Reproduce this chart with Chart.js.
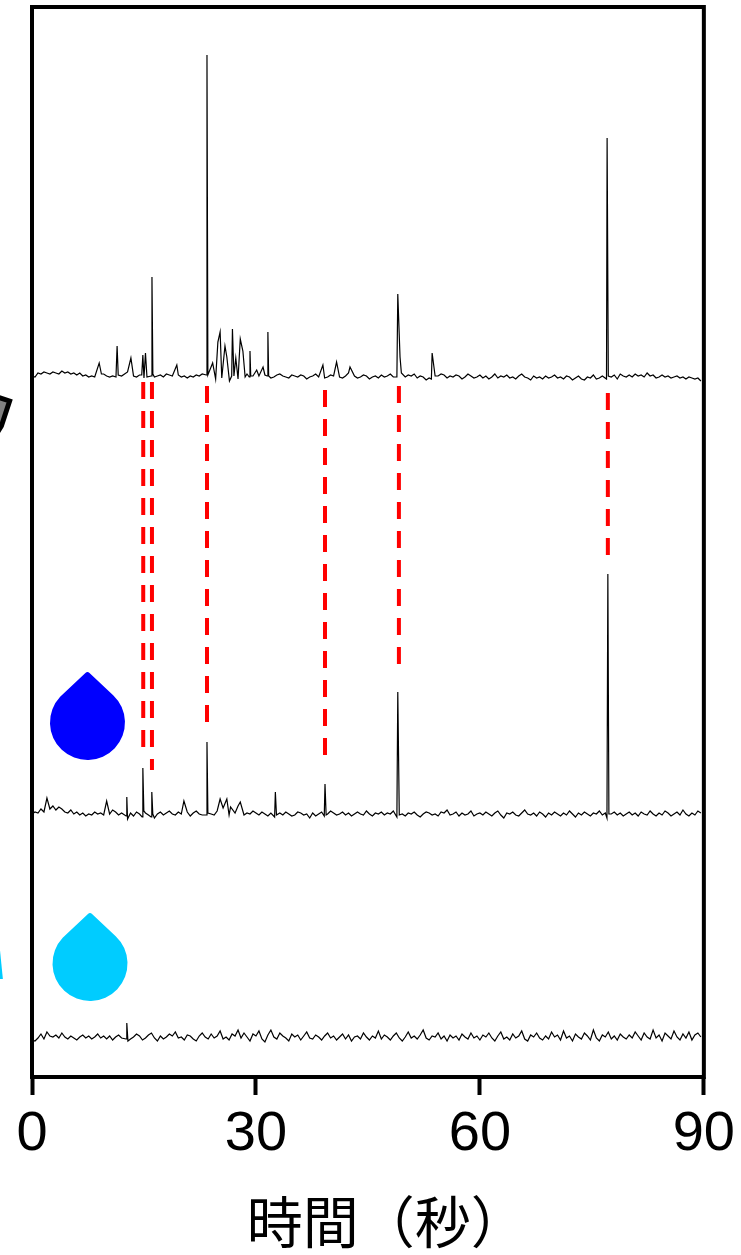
<!DOCTYPE html>
<html>
<head>
<meta charset="utf-8">
<title>時間（秒）</title>
<script src="https://cdn.jsdelivr.net/npm/chart.js@4"></script>
<style>
html, body { margin: 0; padding: 0; background: #fff; }
canvas { display: block; }
</style>
</head>
<body>
<canvas id="traceChart" width="741" height="1255"></canvas>
<script>
// Shared sampling times of the baseline noise (seconds)
const noiseTimes = [
  0,0.4,0.8,1.2,1.6,2,2.4,2.8,3.2,3.6,4,4.4,4.8,5.2,5.6,6,6.4,6.8,7.2,7.6,8,8.4,8.8,9.2,9.6,
  10,10.4,10.8,11.2,11.6,12,12.4,12.8,13.2,13.6,14,14.4,14.8,15.2,15.6,16,16.4,16.8,17.2,17.6,18,18.4,18.8,19.2,19.6,
  20,20.4,20.8,21.2,21.6,22,22.4,22.8,23.2,23.6,24,24.4,24.8,25.2,25.6,26,26.4,26.8,27.2,27.6,28,28.4,28.8,29.2,29.6,
  30,30.4,30.8,31.2,31.6,32,32.4,32.8,33.2,33.6,34,34.4,34.8,35.2,35.6,36,36.4,36.8,37.2,37.6,38,38.4,38.8,39.2,39.6,
  40,40.4,40.8,41.2,41.6,42,42.4,42.8,43.2,43.6,44,44.4,44.8,45.2,45.6,46,46.4,46.8,47.2,47.6,48,48.4,48.8,49.2,49.6,
  50,50.4,50.8,51.2,51.6,52,52.4,52.8,53.2,53.6,54,54.4,54.8,55.2,55.6,56,56.4,56.8,57.2,57.6,58,58.4,58.8,59.2,59.6,
  60,60.4,60.8,61.2,61.6,62,62.4,62.8,63.2,63.6,64,64.4,64.8,65.2,65.6,66,66.4,66.8,67.2,67.6,68,68.4,68.8,69.2,69.6,
  70,70.4,70.8,71.2,71.6,72,72.4,72.8,73.2,73.6,74,74.4,74.8,75.2,75.6,76,76.4,76.8,77.2,77.6,78,78.4,78.8,79.2,79.6,
  80,80.4,80.8,81.2,81.6,82,82.4,82.8,83.2,83.6,84,84.4,84.8,85.2,85.6,86,86.4,86.8,87.2,87.6,88,88.4,88.8,89.2,89.6
];

// Upper trace
const topNoise = [
  701,700,704,703,705,704,703,705,704,703,706,704,705,703,704,702,704,701,702,700,701,700,702,701,703,
  701,700,701,700,702,701,703,705,702,701,700,702,701,699,702,703,700,701,702,700,703,702,701,704,702,
  700,701,699,701,700,702,701,703,700,701,702,699,703,701,700,702,701,699,702,701,700,702,703,700,701,
  699,701,700,702,701,699,700,702,703,701,700,699,702,701,700,702,701,698,700,701,703,700,701,699,700,
  702,701,703,700,699,701,704,700,701,699,700,702,701,698,700,701,699,702,700,701,703,700,702,701,699,
  700,702,701,703,699,701,700,697,699,702,700,701,703,702,699,701,700,702,701,698,700,703,701,699,700,
  702,699,701,698,700,703,699,701,700,702,699,700,698,701,703,700,699,697,701,699,700,698,701,699,700,
  702,699,700,698,701,700,697,699,701,698,697,700,699,702,698,699,701,697,699,700,702,698,703,701,700,
  702,700,703,701,702,700,704,701,702,699,700,702,700,701,699,700,701,699,700,698,700,699,698,699,696
];
const topPeakTimes = [
  9,9.3,11.25,11.4,11.55,13.25,14.7,14.85,15,15.2,15.4,15.95,16.07,16.19,19.4,
  23.34,23.44,23.56,24.2,24.6,24.9,25.2,25.42,25.85,26.1,26.45,26.75,26.85,27.05,27.3,27.6,27.9,28.25,28.55,29.1,29.2,29.3,30.1,30.95,31.5,31.6,31.7,
  38.97,40.8,42.6,48.88,49,49.3,49.48,53.5,53.6,54,76.96,77.04,77.2
];
const topPeakValues = [
  714,703,700,731,702,719,702,722,699,724,700,701,800,703,712,
  702,1022,702,714,698,735,745,699,731,720,696,701,748,701,719,698,738,726,700,700,726,701,707,710,701,745,701,
  712,715,710,700,783,720,704,698,724,701,698,939,701
];

// Middle trace
const midNoise = [
  263,265,264,268,265,272,268,271,267,270,268,265,264,267,263,265,262,264,261,263,262,265,263,264,262,
  264,263,267,265,262,264,263,266,264,261,265,263,270,264,262,266,259,263,265,262,264,266,263,262,265,
  263,267,265,261,264,266,263,262,268,265,263,262,266,264,269,265,262,267,264,271,266,262,264,263,266,
  264,262,265,263,261,264,263,260,264,262,265,263,261,262,265,264,262,263,259,264,261,263,265,261,263,
  266,264,262,263,265,262,264,261,263,265,263,262,266,263,261,264,263,265,262,264,263,266,262,264,263,
  261,264,263,265,262,260,263,265,264,262,263,261,265,264,267,262,263,265,261,264,262,263,266,261,263,
  264,262,265,263,261,264,266,262,259,264,263,265,262,261,264,267,263,262,264,261,265,263,260,264,262,
  265,263,261,264,262,266,263,260,264,262,265,263,261,264,263,266,262,264,260,263,265,262,264,261,263,
  265,262,264,261,265,263,262,266,263,261,264,262,266,264,261,263,265,262,267,263,261,264,262,266,264
];
const midPeakTimes = [
  2,10,12.6,12.7,12.8,14.75,14.85,14.98,15.95,16.05,16.18,20.35,
  23.34,23.44,23.56,25.2,26.1,26.6,27.9,32.5,32.6,32.75,39.15,39.25,39.4,
  48.88,49,49.2,77.02,77.14,77.28
];
const midPeakValues = [
  279,276,261,280,258,260,309,266,260,285,263,276,
  262,335,264,278,278,270,275,260,285,262,261,293,262,
  260,385,262,259,503,263
];

// Lower trace
const lowNoise = [
  37,36,39,43,38,45,41,40,42,39,44,40,38,41,39,37,40,42,39,41,38,40,43,39,41,
  38,41,37,40,42,39,41,44,38,40,43,41,37,39,42,44,39,36,41,38,40,43,41,45,39,
  40,37,42,41,38,36,41,44,40,38,43,39,41,46,38,40,37,43,41,47,39,44,40,36,43,
  41,46,38,35,42,47,40,38,44,41,39,36,43,40,42,37,41,45,39,38,42,40,37,41,44,
  39,41,37,40,43,38,42,36,40,41,38,44,40,37,41,39,46,38,42,40,37,41,44,39,36,
  40,45,39,41,38,42,47,39,37,41,40,44,38,41,36,42,39,41,37,43,40,38,44,39,41,
  37,42,40,44,39,36,41,45,38,40,37,43,39,41,46,38,36,42,40,44,39,37,41,38,45,
  40,42,37,46,39,41,36,43,40,38,44,41,37,47,39,36,42,40,45,38,41,37,43,40,38,
  42,39,45,41,37,44,40,38,47,39,42,36,44,41,38,46,40,37,43,39,45,37,42,44,40
];
const lowPeakTimes = [12.6,12.7,12.85];
const lowPeakValues = [38,54,36];

// Red dashed guide lines: time, then start and end value
const guideTimes = [14.9,16.07,23.44,39.25,49.15,77.14];
const guideStarts = [695,695,691,687,691,684];
const guideEnds = [329,307,355,320,412,520];

// Water drops
const dropTimes = [7.43,7.77];
const dropValues = [354.5,113.5];
const dropColors = ['#0000ff','#00ccff'];

// Cut-off pieces of the icons beyond the left edge
const darkPieceTimes = [-5,-3,-4.1,-5];
const darkPieceValues = [681,676,651,640];
const cyanPieceTimes = [-4.29,-3.9,-3.9,-4.29];
const cyanPieceValues = [127,98,98,98];

const tickValues = [0,30,60,90];

// Put the peaks in between the noise samples
function mergeTrace(noise, peakTimes, peakValues) {
    const points = [];
    noiseTimes.forEach((t, i) => {
        if (!peakTimes.some(p => Math.abs(p - t) < 0.2)) {
            points.push({ x: t, y: noise[i] });
        }
    });
    peakTimes.forEach((t, i) => points.push({ x: t, y: peakValues[i] }));
    return points.sort((a, b) => a.x - b.x);
}

function traceDataset(noise, peakTimes, peakValues) {
    return {
        data: mergeTrace(noise, peakTimes, peakValues),
        borderColor: '#000000',
        borderWidth: 1.2,
        pointRadius: 0,
        tension: 0,
        showLine: true
    };
}

function guideDataset(i) {
    return {
        data: [{ x: guideTimes[i], y: guideStarts[i] }, { x: guideTimes[i], y: guideEnds[i] }],
        borderColor: '#ff0000',
        borderWidth: 4,
        borderDash: [17, 12],
        pointRadius: 0,
        showLine: true
    };
}

function fillPiece(ctx, scales, times, values, fill, stroke) {
    ctx.beginPath();
    times.forEach((t, i) => {
        ctx.lineTo(scales.x.getPixelForValue(t), scales.y.getPixelForValue(values[i]));
    });
    ctx.closePath();
    ctx.fillStyle = fill;
    ctx.fill();
    if (stroke) {
        ctx.strokeStyle = stroke;
        ctx.lineWidth = 5;
        ctx.stroke();
    }
}

// Frame, drops and the cut-off pieces
const decorPlugin = {
    id: 'decor',
    afterDraw(chart) {
        const { ctx, chartArea, scales } = chart;
        ctx.save();

        ctx.strokeStyle = '#000000';
        ctx.lineWidth = 4;
        ctx.strokeRect(chartArea.left, chartArea.top, chartArea.width, chartArea.height);

        dropTimes.forEach((t, i) => {
            const cx = scales.x.getPixelForValue(t);
            const cy = scales.y.getPixelForValue(dropValues[i]);
            const r = 37.5;
            const tip = 51.5;
            const a = Math.asin(r / tip);
            const sx = r * Math.cos(a);
            const sy = r * Math.sin(a);
            ctx.beginPath();
            ctx.moveTo(cx - sx, cy - sy);
            ctx.arcTo(cx, cy - tip, cx + sx, cy - sy, 3);
            ctx.lineTo(cx + sx, cy - sy);
            ctx.arc(cx, cy, r, -a, Math.PI + a);
            ctx.closePath();
            ctx.fillStyle = dropColors[i];
            ctx.fill();
        });

        fillPiece(ctx, scales, darkPieceTimes, darkPieceValues, '#808080', '#000000');
        fillPiece(ctx, scales, cyanPieceTimes, cyanPieceValues, '#00ccff', null);
        ctx.restore();
    }
};

new Chart(document.getElementById('traceChart').getContext('2d'), {
    type: 'scatter',
    data: {
        datasets: [
            traceDataset(topNoise, topPeakTimes, topPeakValues),
            traceDataset(midNoise, midPeakTimes, midPeakValues),
            traceDataset(lowNoise, lowPeakTimes, lowPeakValues),
            ...guideTimes.map((_, i) => guideDataset(i))
        ]
    },
    options: {
        responsive: false,
        animation: false,
        layout: { padding: { left: 32, right: 37, top: 7, bottom: 0 } },
        plugins: { legend: { display: false }, tooltip: { enabled: false } },
        scales: {
            x: {
                type: 'linear',
                min: 0,
                max: 90,
                afterBuildTicks: axis => { axis.ticks = tickValues.map(v => ({ value: v })); },
                afterFit: axis => { axis.height = 178; },
                grid: { drawOnChartArea: false, drawTicks: true, tickLength: 18, tickWidth: 4, tickColor: '#000000' },
                border: { display: false },
                ticks: {
                    color: '#000000',
                    padding: 6,
                    maxRotation: 0,
                    font: { family: '"Liberation Sans", Arial, sans-serif', size: 56 }
                },
                title: {
                    display: true,
                    text: '   時間（秒）',
                    color: '#000000',
                    padding: { top: 0, bottom: 0 },
                    font: { family: '"Noto Sans CJK JP", sans-serif', size: 56 }
                }
            },
            y: {
                display: false,
                min: 0,
                max: 1070
            }
        }
    },
    plugins: [decorPlugin]
});
</script>
</body>
</html>
